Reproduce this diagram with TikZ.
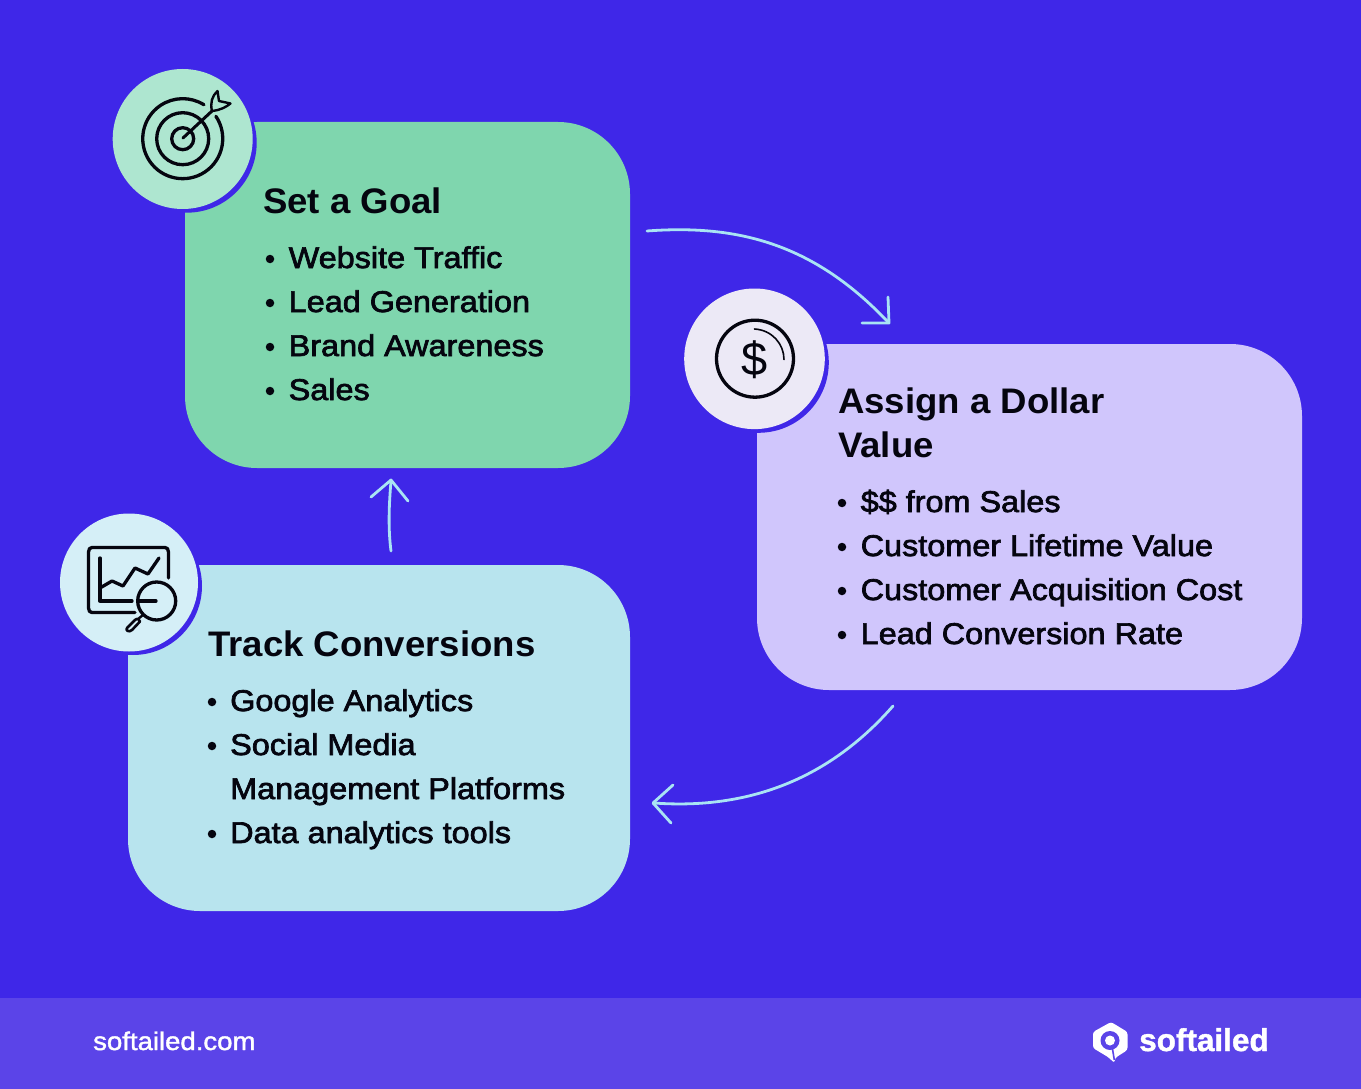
\documentclass[tikz,border=0pt]{standalone}
\usepackage{fontspec}
\setmainfont{Liberation Sans}[FakeStretch=1.08]
\newfontfamily\headfont{Liberation Sans Bold}[FakeStretch=1.03]
\newfontfamily\brandfont{Liberation Sans Bold}
\newfontfamily\plainfont{Liberation Sans}
\newcommand{\medw}[1]{\special{pdf:code 2 Tr 0.7 w}#1\special{pdf:code 0 Tr}}
\newcommand{\thinw}[1]{\special{pdf:code 2 Tr 0.4 w}#1\special{pdf:code 0 Tr}}
\definecolor{bgv}{HTML}{3F27E8}
\definecolor{barv}{HTML}{5B44E8}
\definecolor{boxg}{HTML}{7FD6AE}
\definecolor{boxb}{HTML}{B8E4EE}
\definecolor{boxp}{HTML}{D0C6FC}
\definecolor{circg}{HTML}{AEE6D0}
\definecolor{circb}{HTML}{D5EFF7}
\definecolor{circp}{HTML}{ECE9F6}
\definecolor{arrowc}{HTML}{A9E4F4}
\definecolor{ink}{HTML}{05050F}
\tikzset{
  x=1pt,y=-1pt,
  card/.style={rounded corners=72pt},
  head/.style={anchor=base west,inner sep=0pt,font=\headfont\fontsize{35.5}{44}\selectfont,text=ink,align=left},
  item/.style={anchor=base west,inner sep=0pt,font=\fontsize{30}{44}\selectfont,text=ink},
  dotm/.style={circle,fill=ink,minimum size=8.5pt,inner sep=0pt},
  flow/.style={draw=arrowc,line width=2.8pt,line cap=round,line join=round},
  icon/.style={draw=ink,line width=3.3pt,line cap=round,line join=round},
  foot/.style={anchor=base west,inner sep=0pt,text=white}
}
\begin{document}
\begin{tikzpicture}
\useasboundingbox (0,0) rectangle (1361,1089);
\fill[bgv] (0,0) rectangle (1361,1089);
\fill[barv] (0,998) rectangle (1361,1089);
% cards
\fill[boxg,card] (185,122) rectangle (630,468);
\fill[boxb,card] (128,565) rectangle (630,911);
\fill[boxp,card] (757,344) rectangle (1302,690);
% badges
\fill[bgv] (186.7,142.7) circle (70);
\fill[circg] (182.7,139) circle (70);
\fill[bgv] (133,586) circle (69);
\fill[circb] (129,582.5) circle (69);
\fill[bgv] (758.5,362.5) circle (70.3);
\fill[circp] (754.5,358.8) circle (70.3);
% text set a goal
\node[head] (t1) at (263,213) {Set a Goal};
\foreach \n/\y/\s in {a/268/Website Traffic,b/312/Lead Generation,c/356/Brand Awareness,d/400/Sales}{
  \node[dotm] (d1\n) at (270,\y-9) {};
  \node[item] (i1\n) at (288.5,\y) {\medw{\s}};
}
\node[head] (t2a) at (838,413) {Assign a Dollar};
\node[head] (t2b) at (838,457) {Value};
\foreach \n/\y/\s in {a/512/\$\$ from Sales,b/556/Customer Lifetime Value,c/600/Customer Acquisition Cost,d/644/Lead Conversion Rate}{
  \node[dotm] (d2\n) at (842,\y-9) {};
  \node[item] (i2\n) at (860.5,\y) {\medw{\s}};
}
\node[head] (t3) at (208,656) {Track Conversions};
\foreach \n/\y/\s in {a/711/Google Analytics,b/755/Social Media,d/843/Data analytics tools}{
  \node[dotm] (d3\n) at (212,\y-9) {};
  \node[item] (i3\n) at (230,\y) {\medw{\s}};
}
\node[item] (i3c) at (230,799) {\medw{Management Platforms}};
% arrows
\coordinate (a1s) at (647,231); \coordinate (a1e) at (888,322);
\draw[flow] (a1s) .. controls (740,224) and (815,245) .. (a1e);
\draw[flow] (862,323) -- (889,323) -- (888,297);
\coordinate (a2s) at (391,551); \coordinate (a2e) at (391,481);
\draw[flow] (a2s) .. controls (388,528) and (389,505) .. (a2e);
\draw[flow] (371,497) -- (391,480) -- (408,501);
\coordinate (a3s) at (893,706); \coordinate (a3e) at (654,803);
\draw[flow] (a3s) .. controls (830,778) and (750,810) .. (a3e);
\draw[flow] (673,785) -- (653,803) -- (671,823);
% target icon
\draw[icon] (215.9,116.3) arc[start angle=-34,end angle=302,radius=40];
\draw[icon] (182.7,138.7) circle (26);
\draw[icon] (182.7,138.7) circle (11);
\draw[line width=3pt,draw=ink,line cap=round] (183,138) -- (212,111);
\draw[line width=2.4pt,draw=ink,line join=round] (212,111) .. controls (221,110) and (226,107) .. (230.5,103.5) -- (219,101) -- (217.5,91) .. controls (212,96) and (210,103) .. (212,111);
% chart icon
\draw[icon] (168.5,578) -- (168.5,552) .. controls (168.5,549) and (167,547.5) .. (165,547.5) -- (92,547.5) .. controls (90,547.5) and (88.5,549) .. (88.5,552) -- (88.5,608) .. controls (88.5,611) and (90,612.5) .. (92,612.5) -- (135,612.5);
\draw[icon] (100,558) -- (100,601) -- (132,601);
\draw[icon] (100,588) -- (112,581) -- (123,586) -- (135,568) -- (148,574) -- (159,558);
\draw[icon] (156.7,601) circle (19);
\draw[icon] (138.5,601) -- (156,601);
\draw[line width=2.4pt,draw=ink] (143,615) -- (138,619);
\draw[line width=2.6pt,draw=ink,line join=round] (127,628) -- (135,620) .. controls (137,618) and (140,619) .. (140,621.5) -- (132,630) .. controls (129,633) and (125,630) .. (127,628);
% dollar icon
\draw[icon] (755,358.7) circle (38.5);
\draw[draw=ink,line width=1.6pt,line cap=round] (754.5,329) .. controls (772,330) and (784,344) .. (784,359.5);
\node[inner sep=0pt,text=ink,font=\plainfont\fontsize{47}{47}\selectfont] (dollar) at (755,360) {\$};
% footer
\node[foot,font=\fontsize{25.5}{30}\selectfont] (site) at (93,1050) {\thinw{softailed.com}};
\node[foot,font=\brandfont\fontsize{31.5}{32}\selectfont] (brand) at (1139,1051) {\thinw{softailed}};
\fill[white,rounded corners=2.5pt] (1111,1022) -- (1127.5,1032) -- (1127.5,1050) -- (1115,1058) -- (1114.5,1063) -- (1108,1057) -- (1093,1048) -- (1093,1032) -- cycle;
\fill[barv] (1110,1040.5) circle (9.5);
\fill[white] (1110,1040.5) circle (5);
\draw[barv,line width=1.6pt] (1112.5,1049) -- (1114.3,1060);
\end{tikzpicture}
\end{document}
